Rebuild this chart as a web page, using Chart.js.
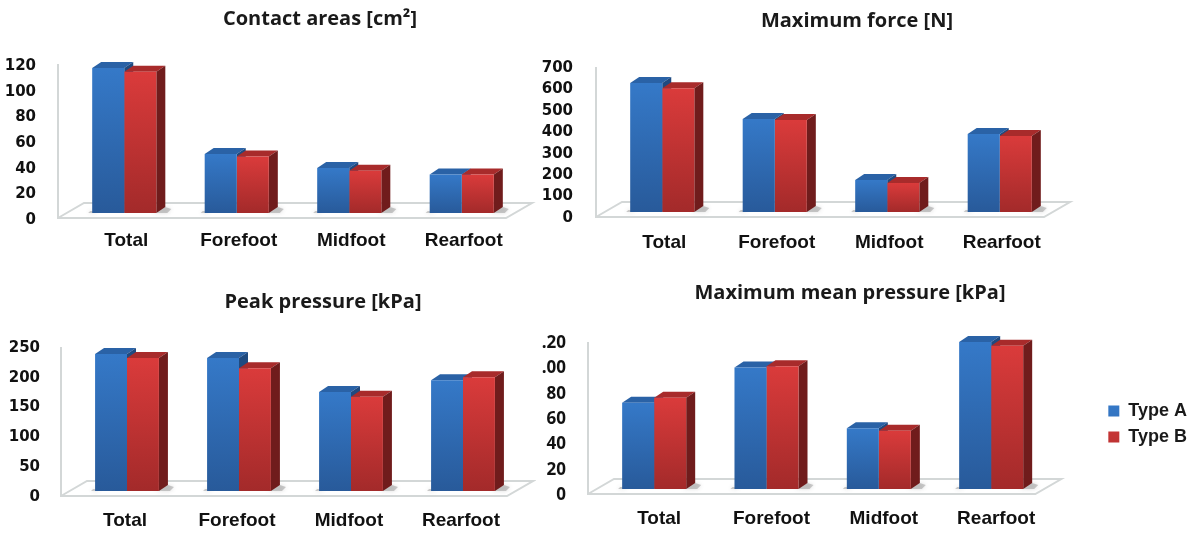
<!DOCTYPE html>
<html lang="en">
<head>
    <meta charset="UTF-8">
    <title>Contact areas, force and pressure</title>
    <script src="https://cdn.jsdelivr.net/npm/chart.js"></script>
    <style>
        body { margin: 0; background: white; overflow: hidden; }
        canvas { position: absolute; }
    </style>
</head>
<body>
    <canvas id="chartAreas"></canvas>
    <canvas id="chartForce"></canvas>
    <canvas id="chartPeak"></canvas>
    <canvas id="chartMean"></canvas>

    <script>
        const categories = ["Total", "Forefoot", "Midfoot", "Rearfoot"];
        const seriesNames = ["Type A", "Type B"];

        const areasA = [113, 46, 35, 30];
        const areasB = [110, 44, 33, 30];
        const areasTicks = ["0", "20", "40", "60", "80", "100", "120"];

        const forceA = [602, 434, 149, 364];
        const forceB = [578, 429, 135, 355];
        const forceTicks = ["0", "100", "200", "300", "400", "500", "600", "700"];

        const peakA = [230, 223, 166, 186];
        const peakB = [223, 206, 158, 191];
        const peakTicks = ["0", "50", "100", "150", "200", "250"];

        const meanA = [68, 96, 48, 116];
        const meanB = [72, 97, 46, 113];
        const meanTicks = ["0", "20", "40", "60", "80", ".00", ".20"];

        const solid = ["#2f6db5", "#c93434"];
        const gradTop = ["#3579c8", "#da3b3b"];
        const gradBottom = ["#285a9a", "#a32a2a"];
        const sideColor = ["#1f4a80", "#701c1c"];
        const topColor = ["#2a62a6", "#a82b2b"];

        // Colore das barras: gradiente vertical, cor fixa para a legenda
        function barColor(ctx) {
            const i = ctx.datasetIndex;
            if (ctx.type !== "data") return solid[i];
            const scale = ctx.chart.scales.y;
            if (!scale || scale.top === undefined) return solid[i];
            const g = ctx.chart.ctx.createLinearGradient(0, scale.getPixelForValue(ctx.parsed.y), 0, scale.getPixelForValue(0));
            g.addColorStop(0, gradTop[i]);
            g.addColorStop(1, gradBottom[i]);
            return g;
        }

        // Floor, back line and the 3D faces of each bar, read from the bar elements
        const depthPlugin = {
            id: "depth",
            beforeDatasetsDraw(chart) {
                const c = chart.ctx, a = chart.chartArea, y = chart.scales.y;
                const base = y.getPixelForValue(0);
                const x0 = a.left - 10, x1 = a.right - 12, front = base + 5, back = base - 10;
                c.save();
                c.strokeStyle = "#d3d7d7";
                c.lineWidth = 2;
                c.beginPath();
                c.moveTo(x0, y.top + 5);
                c.lineTo(x0, front);
                c.lineTo(x1, front);
                c.lineTo(x1 + 26, back);
                c.lineTo(x0 + 26, back);
                c.lineTo(x0, front);
                c.stroke();

                chart.data.datasets.forEach((ds, i) => {
                    chart.getDatasetMeta(i).data.forEach(bar => {
                        const l = bar.x - bar.width / 2, r = bar.x + bar.width / 2, t = bar.y, b = bar.base;
                        const dx = 9, dy = 6;
                        // sombra no chao
                        c.save();
                        c.shadowColor = "rgba(90,90,90,0.5)";
                        c.shadowBlur = 4;
                        c.fillStyle = "rgba(130,130,130,0.4)";
                        c.beginPath();
                        if (i === 1) {
                            c.moveTo(r - 4, b);
                            c.lineTo(r + dx + 2, b);
                            c.lineTo(r + dx + 6, b - dy + 2);
                            c.lineTo(r + dx, b - dy);
                        } else {
                            c.moveTo(l - 4, b);
                            c.lineTo(l + 4, b);
                            c.lineTo(l + 4, b - 2);
                            c.lineTo(l - 2, b - 2);
                        }
                        c.fill();
                        c.restore();

                        c.fillStyle = topColor[i];
                        c.beginPath();
                        c.moveTo(l, t);
                        c.lineTo(l + dx, t - dy);
                        c.lineTo(r + dx, t - dy);
                        c.lineTo(r, t);
                        c.fill();
                        c.fillStyle = sideColor[i];
                        c.beginPath();
                        c.moveTo(r, t);
                        c.lineTo(r + dx, t - dy);
                        c.lineTo(r + dx, b - dy);
                        c.lineTo(r, b);
                        c.fill();
                    });
                });
                c.restore();
            },
            afterLayout(chart) {
                const opts = chart.options.plugins.depth;
                const tb = chart.titleBlock;
                tb.left += opts.titleShift;
                tb.right += opts.titleShift;
                if (!opts.legendShift) return;
                const lg = chart.legend;
                lg.left += opts.legendShift.x;
                lg.right += opts.legendShift.x;
                lg.top += opts.legendShift.y;
                lg.bottom += opts.legendShift.y;
            }
        };

        function makeChart(id, title, a, b, ticks, max, g) {
            const el = document.getElementById(id);
            const titleSize = 20;
            const canvasTop = Math.round(g.titleY - titleSize * 0.6);
            const width = g.canvasRight - g.canvasLeft;
            const height = g.base + g.xHeight - canvasTop;
            el.width = width;
            el.height = height;
            el.style.left = g.canvasLeft + "px";
            el.style.top = canvasTop + "px";

            new Chart(el.getContext("2d"), {
                type: "bar",
                data: {
                    labels: categories,
                    datasets: [
                        { label: seriesNames[0], data: a, backgroundColor: barColor },
                        { label: seriesNames[1], data: b, backgroundColor: barColor }
                    ]
                },
                options: {
                    responsive: false,
                    animation: false,
                    categoryPercentage: 0.57,
                    barPercentage: 1,
                    layout: { autoPadding: false, padding: { left: 0, top: 0, bottom: 0, right: g.canvasRight - g.right - (g.legendWidth || 0) } },
                    plugins: {
                        depth: { legendShift: g.legendShift, titleShift: g.titleX - (g.canvasLeft + g.right + (g.legendWidth || 0)) / 2 },
                        tooltip: { enabled: false },
                        title: {
                            display: true,
                            text: title,
                            color: "#1a1a1a",
                            font: { family: "Open Sans", size: titleSize, weight: "bold" },
                            padding: { top: 0, bottom: g.top - canvasTop - titleSize * 1.2 }
                        },
                        legend: g.legendShift ? {
                            display: true,
                            position: "right",
                            labels: {
                                color: "#1a1a1a",
                                boxWidth: 11,
                                boxHeight: 11,
                                padding: 8,
                                font: { family: "Liberation Sans", size: 18, weight: "bold" }
                            }
                        } : { display: false }
                    },
                    scales: {
                        x: {
                            grid: { display: false, drawTicks: false },
                            border: { display: false },
                            afterFit(s) { s.height = g.xHeight; },
                            ticks: {
                                color: "#111",
                                padding: g.xPadding,
                                maxRotation: 0,
                                labelOffset: g.xOffset,
                                font: { family: "Liberation Sans", size: 19, weight: "bold" }
                            }
                        },
                        y: {
                            min: 0,
                            max: max,
                            grid: { display: false, drawTicks: false },
                            border: { display: false },
                            afterFit(s) { s.width = g.left - g.canvasLeft; },
                            ticks: {
                                stepSize: max / (ticks.length - 1),
                                color: "#111",
                                padding: g.yPadding,
                                labelOffset: g.labelOffset,
                                font: { family: g.tickFont, size: g.tickSize, weight: "bold" },
                                callback: (v, i) => ticks[i]
                            }
                        }
                    }
                },
                plugins: [depthPlugin]
            });
        }

        makeChart("chartAreas", "Contact areas [cm²]", areasA, areasB, areasTicks, 120, {
            canvasLeft: 0, canvasRight: 538, titleX: 320, titleY: 19, left: 68, right: 518, top: 59, base: 213,
            xHeight: 45, xPadding: 16, xOffset: 2, yPadding: 32, labelOffset: 7, tickFont: "DejaVu Sans", tickSize: 15
        });
        makeChart("chartForce", "Maximum force [N]", forceA, forceB, forceTicks, 700, {
            canvasLeft: 538, canvasRight: 1200, titleX: 857, titleY: 21, left: 606, right: 1056, top: 62, base: 212,
            xHeight: 48, xPadding: 19, xOffset: 2, yPadding: 33, labelOffset: 6, tickFont: "DejaVu Sans", tickSize: 15
        });
        makeChart("chartPeak", "Peak pressure [kPa]", peakA, peakB, peakTicks, 250, {
            canvasLeft: 0, canvasRight: 536, titleX: 323, titleY: 302, left: 71, right: 519, top: 342, base: 491,
            xHeight: 46, xPadding: 18, xOffset: -2, yPadding: 31, labelOffset: 6, tickFont: "DejaVu Sans", tickSize: 15
        });
        makeChart("chartMean", "Maximum mean pressure [kPa]", meanA, meanB, meanTicks, 120, {
            canvasLeft: 536, canvasRight: 1200, titleX: 850, titleY: 293, left: 598, right: 1047, top: 337, base: 489,
            xHeight: 46, xPadding: 18, xOffset: 5, yPadding: 32, labelOffset: 6, tickFont: "Open Sans", tickSize: 17,
            legendWidth: 97, legendShift: { x: 53, y: 16 }
        });
    </script>
</body>
</html>
